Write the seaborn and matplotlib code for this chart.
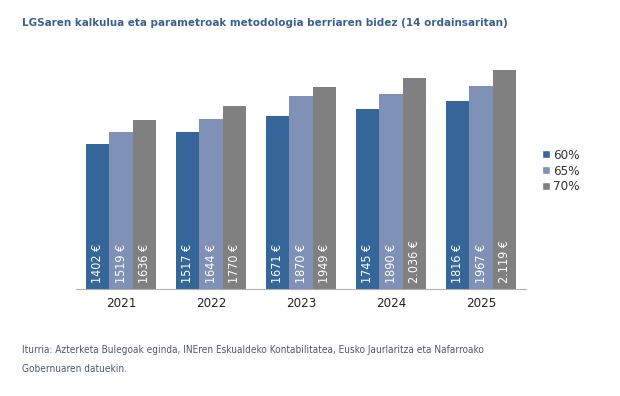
import pandas as pd
import matplotlib
matplotlib.use("Agg")
import matplotlib.pyplot as plt
import seaborn as sns
from matplotlib.patches import Patch

years = ["2021", "2022", "2023", "2024", "2025"]
shares = ["60%", "65%", "70%"]
v60 = [1402, 1517, 1671, 1745, 1816]
v65 = [1519, 1644, 1870, 1890, 1967]
v70 = [1636, 1770, 1949, 2036, 2119]
labels60 = ["1402 €", "1517 €", "1671 €", "1745 €", "1816 €"]
labels65 = ["1519 €", "1644 €", "1870 €", "1890 €", "1967 €"]
labels70 = ["1636 €", "1770 €", "1949 €", "2.036 €", "2.119 €"]
colors = ["#34669a", "#7f91b6", "#808080"]

title = "LGSaren kalkulua eta parametroak metodologia berriaren bidez (14 ordainsaritan)"
source = ("Iturria: Azterketa Bulegoak eginda, INEren Eskualdeko Kontabilitatea, Eusko Jaurlaritza eta Nafarroako\n"
          "Gobernuaren datuekin.")

df = pd.DataFrame({
    "year": years * 3,
    "share": [s for s in shares for _ in years],
    "value": v60 + v65 + v70,
    "label": labels60 + labels65 + labels70,
})

sns.set_style("white")
plt.rcParams["font.family"] = ["DejaVu Sans"]
plt.rcParams["font.stretch"] = "condensed"

fig = plt.figure(figsize=(6.2, 3.96), dpi=100)
ax = fig.add_axes([0.1226, 0.270, 0.7258, 0.653])

sns.barplot(data=df, x="year", y="value", hue="share", palette=colors,
            width=0.77, saturation=1, linewidth=0, ax=ax, legend=False)
ax.set_ylim(0, 2500)
ax.set_xlim(-0.5, len(years) - 0.5)

# value labels inside bars, written upwards from the base
for cont, s in zip(ax.containers, shares):
    labs = df.loc[df["share"] == s, "label"].tolist()
    for bar, lab in zip(cont, labs):
        ax.text(bar.get_x() + bar.get_width() / 2, 55, lab, rotation=90,
                ha="center", va="bottom", color="white", fontsize=9)

for sp in ["top", "right", "left"]:
    ax.spines[sp].set_visible(False)
ax.spines["bottom"].set_color("#b0b0b0")
ax.set_yticks([])
ax.set_xlabel("")
ax.set_ylabel("")
ax.tick_params(axis="x", which="major", length=0, pad=6, labelsize=9.5, labelcolor="#222222")
ax.set_xticks([i - 0.5 for i in range(len(years) + 1)], minor=True)
ax.tick_params(axis="x", which="minor", length=5, color="#b0b0b0", direction="out")

handles = [Patch(facecolor=c, label=s) for c, s in zip(colors, shares)]
fig.legend(handles=handles, loc="upper left", bbox_to_anchor=(0.855, 0.655),
           frameon=False, fontsize=9.6, handlelength=0.6, handleheight=0.6,
           handletextpad=0.25, labelspacing=0.22, labelcolor="#333333")

fig.text(0.035, 0.935, title, fontsize=8.25, fontweight="bold", color="#3b6090")
fig.text(0.035, 0.06, source, fontsize=7.2, color="#4a5878", linespacing=2.1)

fig.savefig("out.png", dpi=100)
